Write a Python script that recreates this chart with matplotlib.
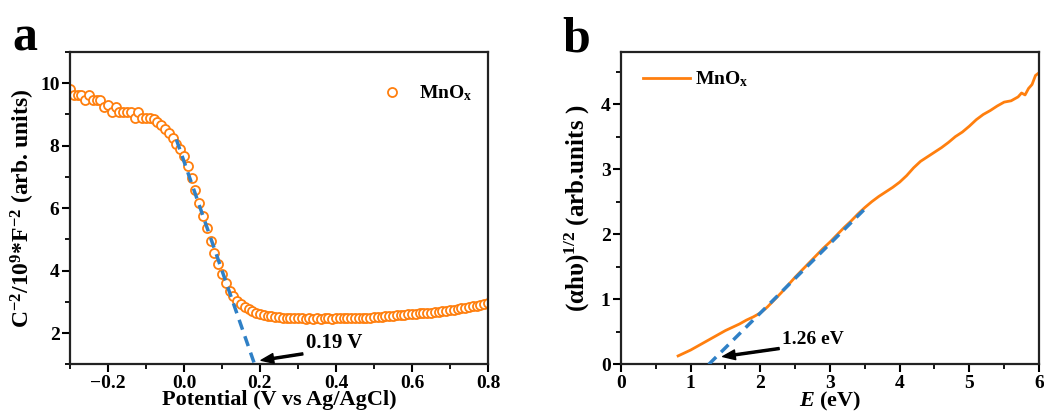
import matplotlib
matplotlib.use("Agg")
import matplotlib.pyplot as plt
from matplotlib.ticker import MultipleLocator

plt.rcParams['font.family'] = ['Liberation Serif', 'DejaVu Serif']
plt.rcParams['font.weight'] = 'bold'
plt.rcParams['mathtext.fontset'] = 'custom'
plt.rcParams['mathtext.rm'] = 'Liberation Serif:bold'
plt.rcParams['mathtext.bf'] = 'Liberation Serif:bold'
plt.rcParams['mathtext.it'] = 'Liberation Serif:italic:bold'

# panel a: Mott-Schottky
potential = [-0.30, -0.29, -0.28, -0.27, -0.26, -0.25, -0.24, -0.23, -0.22, -0.21,
             -0.20, -0.19, -0.18, -0.17, -0.16, -0.15, -0.14, -0.13, -0.12, -0.11,
             -0.10, -0.09, -0.08, -0.07, -0.06, -0.05, -0.04, -0.03, -0.02, -0.01,
             0.00, 0.01, 0.02, 0.03, 0.04, 0.05, 0.06, 0.07, 0.08, 0.09,
             0.10, 0.11, 0.12, 0.13, 0.14, 0.15, 0.16, 0.17, 0.18, 0.19,
             0.20, 0.21, 0.22, 0.23, 0.24, 0.25, 0.26, 0.27, 0.28, 0.29,
             0.30, 0.31, 0.32, 0.33, 0.34, 0.35, 0.36, 0.37, 0.38, 0.39,
             0.40, 0.41, 0.42, 0.43, 0.44, 0.45, 0.46, 0.47, 0.48, 0.49,
             0.50, 0.51, 0.52, 0.53, 0.54, 0.55, 0.56, 0.57, 0.58, 0.59,
             0.60, 0.61, 0.62, 0.63, 0.64, 0.65, 0.66, 0.67, 0.68, 0.69,
             0.70, 0.71, 0.72, 0.73, 0.74, 0.75, 0.76, 0.77, 0.78, 0.79, 0.80]
inv_cap2 = [9.80, 9.62, 9.62, 9.62, 9.45, 9.62, 9.45, 9.45, 9.45, 9.25,
            9.30, 9.08, 9.25, 9.08, 9.08, 9.08, 9.08, 8.90, 9.08, 8.90,
            8.90, 8.88, 8.84, 8.76, 8.66, 8.55, 8.40, 8.24, 8.07, 7.90,
            7.68, 7.35, 6.98, 6.58, 6.16, 5.76, 5.36, 4.96, 4.56, 4.20,
            3.88, 3.60, 3.36, 3.18, 3.04, 2.93, 2.84, 2.77, 2.71, 2.66,
            2.62, 2.59, 2.56, 2.54, 2.52, 2.51, 2.50, 2.49, 2.48, 2.48,
            2.47, 2.47, 2.46, 2.47, 2.46, 2.47, 2.46, 2.47, 2.47, 2.46,
            2.47, 2.48, 2.47, 2.48, 2.48, 2.48, 2.49, 2.49, 2.50, 2.50,
            2.51, 2.52, 2.53, 2.54, 2.55, 2.56, 2.57, 2.58, 2.59, 2.60,
            2.61, 2.62, 2.63, 2.64, 2.65, 2.66, 2.68, 2.69, 2.71, 2.72,
            2.74, 2.75, 2.77, 2.79, 2.81, 2.83, 2.86, 2.88, 2.91, 2.94, 2.97]
fit_a_x = [-0.02, 0.186]
fit_a_y = [8.2, 1.0]

# panel b: Tauc plot
energy = [0.82, 0.9, 1.0, 1.1, 1.2, 1.3, 1.4, 1.5, 1.6, 1.7, 1.8, 1.9,
          2.0, 2.1, 2.2, 2.3, 2.4, 2.5, 2.6, 2.7, 2.8, 2.9,
          3.0, 3.1, 3.2, 3.3, 3.4, 3.5, 3.6, 3.7, 3.8, 3.9,
          4.0, 4.1, 4.2, 4.3, 4.4, 4.5, 4.6, 4.7, 4.8, 4.9,
          5.0, 5.1, 5.2, 5.3, 5.4, 5.5, 5.6, 5.7, 5.75, 5.8, 5.85, 5.9, 5.95, 6.0]
tauc = [0.13, 0.17, 0.22, 0.28, 0.34, 0.40, 0.46, 0.52, 0.57, 0.62, 0.68, 0.73,
        0.79, 0.88, 0.99, 1.10, 1.22, 1.34, 1.45, 1.56, 1.67, 1.78,
        1.88, 1.99, 2.10, 2.20, 2.31, 2.41, 2.50, 2.58, 2.65, 2.72,
        2.80, 2.90, 3.02, 3.12, 3.19, 3.26, 3.33, 3.41, 3.50, 3.57,
        3.66, 3.76, 3.84, 3.90, 3.97, 4.03, 4.05, 4.11, 4.17, 4.14, 4.24, 4.30, 4.44, 4.48]
fit_b_x = [1.26, 3.53]
fit_b_y = [0.0, 2.42]

orange = '#ff7f0e'
blue = '#2f80c6'

fig = plt.figure(figsize=(10.44, 4.15), dpi=100)
ax1 = fig.add_axes([0.067, 0.122, 0.4004, 0.7527])
ax2 = fig.add_axes([0.5948, 0.122, 0.4004, 0.7527])

ax1.plot(potential, inv_cap2, 'o', mfc='white', mec=orange, mew=1.3, ms=6.5,
         label='MnO$_\\mathregular{x}$', zorder=2)
ax1.plot(fit_a_x, fit_a_y, '--', color=blue, lw=2.5, dashes=(3, 2), zorder=3)
ax1.set_xlim(-0.3, 0.8)
ax1.set_ylim(1, 11)
ax1.xaxis.set_minor_locator(MultipleLocator(0.1))
ax1.yaxis.set_major_locator(MultipleLocator(2))
ax1.yaxis.set_minor_locator(MultipleLocator(1))
ax1.set_xticks([-0.2, 0.0, 0.2, 0.4, 0.6, 0.8])
ax1.set_xticklabels(['\u22120.2', '0.0', '0.2', '0.4', '0.6', '0.8'])
ax1.set_xlabel('Potential (V vs Ag/AgCl)', fontsize=16, fontweight='bold', labelpad=-1)
ax1.set_ylabel('C$^{-2}$/10$^{9}$*F$^{-2}$ (arb. units)', fontsize=17,
               fontweight='bold', labelpad=2)
ax1.annotate('0.19 V', xy=(0.203, 1.13), xytext=(0.32, 1.67), fontsize=15,
             fontweight='bold', va='center',
             arrowprops=dict(facecolor='black', edgecolor='black', width=1.5,
                             headwidth=7, headlength=9, shrink=0))
ax1.legend(loc='upper right', frameon=False, fontsize=14, handlelength=2.0,
           handletextpad=0.4, bbox_to_anchor=(1.005, 0.955))

ax2.plot(energy, tauc, '-', color=orange, lw=2, label='MnO$_\\mathregular{x}$', zorder=2)
ax2.plot(fit_b_x, fit_b_y, '--', color=blue, lw=2.5, dashes=(3, 2), zorder=3)
ax2.set_xlim(0, 6)
ax2.set_ylim(0, 4.8)
ax2.xaxis.set_major_locator(MultipleLocator(1))
ax2.xaxis.set_minor_locator(MultipleLocator(0.5))
ax2.yaxis.set_major_locator(MultipleLocator(1))
ax2.yaxis.set_minor_locator(MultipleLocator(0.5))
ax2.set_xlabel('$\\mathit{E}$ (eV)', fontsize=16, fontweight='bold', labelpad=-1)
ax2.set_ylabel('(\u03b1h\u03c5)$^{1/2}$ (arb.units )', fontsize=18,
               fontweight='bold', labelpad=6)
ax2.annotate('1.26 eV', xy=(1.46, 0.12), xytext=(2.31, 0.38), fontsize=14,
             fontweight='bold', va='center',
             arrowprops=dict(facecolor='black', edgecolor='black', width=1.5,
                             headwidth=7, headlength=9, shrink=0))
ax2.legend(loc='upper left', frameon=False, fontsize=14, handlelength=2.4,
           handletextpad=0.25, bbox_to_anchor=(0.011, 1.0))

for ax in (ax1, ax2):
    for s in ax.spines.values():
        s.set_linewidth(1.6)
        s.set_color('#222222')
    ax.tick_params(which='major', direction='out', length=6, width=1.5,
                   labelsize=14, top=False, right=False, pad=1.5)
    ax.tick_params(which='minor', direction='out', length=3.5, width=1.3,
                   top=False, right=False)
    for lab in ax.get_xticklabels() + ax.get_yticklabels():
        lab.set_fontweight('bold')

fig.text(0.0115, 0.879, 'a', fontsize=36, fontweight='bold', va='baseline')
fig.text(0.539, 0.875, 'b', fontsize=36, fontweight='bold', va='baseline')

fig.savefig('out.png', dpi=100)
